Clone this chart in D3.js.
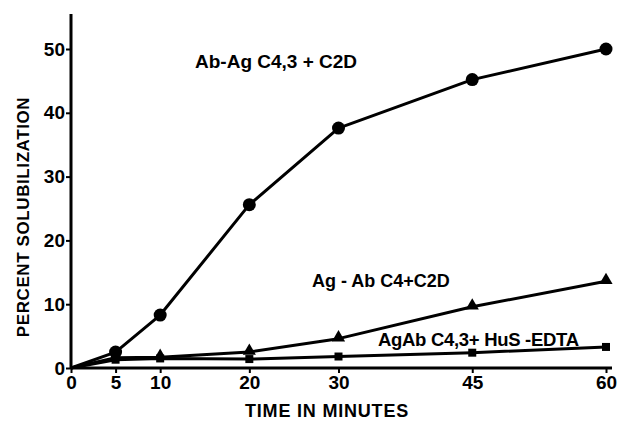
<!DOCTYPE html>
<html><head><meta charset="utf-8">
<script src="https://cdn.jsdelivr.net/npm/d3@7"></script>
<style>
body{margin:0;background:#fff;}
text{font-family:"Liberation Sans",Arial,sans-serif;font-weight:bold;fill:#000;}
</style></head>
<body><svg id="c" width="620" height="424"></svg>
<script>
const times = [0, 5, 10, 20, 30, 45, 60];
const xTicks = [0, 5, 10, 20, 30, 45, 60];
const yTicks = [0, 10, 20, 30, 40, 50];
const abAgC43C2D = [0, 2.5, 8.3, 25.6, 37.6, 45.2, 50.0];
const agAbC4C2D = [0, 1.6, 1.7, 2.5, 4.6, 9.6, 13.6];
const agAbC43HuS = [0, 1.3, 1.5, 1.4, 1.8, 2.4, 3.3];
const seriesLabels = ["Ab-Ag C4,3 + C2D", "Ag - Ab C4+C2D", "AgAb C4,3+ HuS -EDTA"];
const xTitle = "TIME IN MINUTES";
const yTitle = "PERCENT SOLUBILIZATION";

const svg = d3.select("#c");
const x = d3.scaleLinear().domain([0, 60]).range([71, 606]);
const y = d3.scaleLinear().domain([0, 50]).range([368, 49]);

svg.append("line").attr("x1", x(0)).attr("x2", 612).attr("y1", y(0)).attr("y2", y(0))
  .attr("stroke", "#000").attr("stroke-width", 3);
svg.append("line").attr("x1", x(0)).attr("x2", x(0)).attr("y1", y(0)+1).attr("y2", y(55.5))
  .attr("stroke", "#000").attr("stroke-width", 3);

const xAxis = d3.axisBottom(x).tickValues(xTicks).tickSize(5).tickPadding(3).tickFormat(d3.format("d"));
const gx = svg.append("g").attr("transform", `translate(0,${y(0)})`).call(xAxis);
gx.select(".domain").remove();
gx.selectAll(".tick line").attr("stroke", "#000").attr("stroke-width", 2);
gx.selectAll(".tick text").attr("font-size", 19).attr("font-family", "Liberation Sans").attr("font-weight", "bold");

const yAxis = d3.axisLeft(y).tickValues(yTicks).tickSize(5).tickPadding(1).tickFormat(d3.format("d"));
const gy = svg.append("g").attr("transform", `translate(${x(0)},0)`).call(yAxis);
gy.select(".domain").remove();
gy.selectAll(".tick line").attr("stroke", "#000").attr("stroke-width", 2);
gy.selectAll(".tick text").attr("font-size", 19).attr("font-family", "Liberation Sans").attr("font-weight", "bold");

const line = d3.line().x((d, i) => x(times[i])).y(d => y(d)).curve(d3.curveLinear);
[agAbC43HuS, agAbC4C2D, abAgC43C2D].forEach(s => {
  svg.append("path").attr("d", line(s)).attr("fill", "none").attr("stroke", "#000")
    .attr("stroke-width", 3).attr("stroke-linejoin", "round");
});

const pts = s => s.map((v, i) => ({t: times[i], v})).filter(d => d.t > 0);
svg.selectAll(".circ").data(pts(abAgC43C2D)).enter().append("circle")
  .attr("cx", d => x(d.t)).attr("cy", d => y(d.v)).attr("r", 6.5).attr("fill", "#000");
const tri = d3.symbol().type(d3.symbolTriangle).size(75);
svg.selectAll(".tri").data(pts(agAbC4C2D)).enter().append("path")
  .attr("d", tri).attr("transform", d => `translate(${x(d.t)},${y(d.v)-1})`).attr("fill", "#000");
const sq = d3.symbol().type(d3.symbolSquare).size(64);
svg.selectAll(".sq").data(pts(agAbC43HuS)).enter().append("path")
  .attr("d", sq).attr("transform", d => `translate(${x(d.t)},${y(d.v)})`).attr("fill", "#000");

svg.append("text").attr("x", 195).attr("y", 68).attr("font-size", 19).text(seriesLabels[0]);
svg.append("text").attr("x", 312).attr("y", 287).attr("font-size", 18).text(seriesLabels[1]);
svg.append("text").attr("x", 378).attr("y", 346).attr("font-size", 18.5).attr("letter-spacing", -0.3).text(seriesLabels[2]);

svg.append("text").attr("x", 327).attr("y", 417).attr("text-anchor", "middle").attr("font-size", 18)
  .attr("letter-spacing", 0.8).text(xTitle);
svg.append("text").attr("transform", "translate(29,217) rotate(-90)").attr("text-anchor", "middle")
  .attr("font-size", 17).attr("letter-spacing", 0.6).text(yTitle);
</script></body></html>
